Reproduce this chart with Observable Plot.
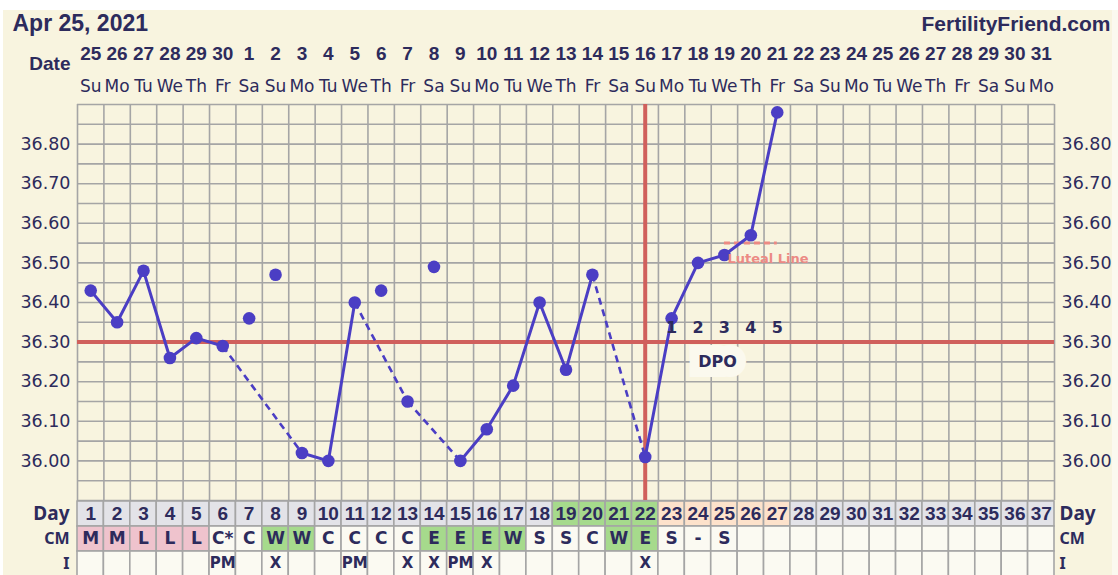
<!DOCTYPE html>
<html><head><meta charset="utf-8">
<script src="https://cdn.jsdelivr.net/npm/d3@7"></script>
<script src="https://cdn.jsdelivr.net/npm/@observablehq/plot@0.6"></script>
<style>
html,body{margin:0;padding:0;background:#fff;overflow:hidden;width:1118px;height:575px}
#wrap{position:relative;width:1118px;height:575px}
#bg{position:absolute;left:3px;top:10px;width:1109px;height:565px;background:#f8f4df}
#bg2{position:absolute;left:1112px;top:10px;width:6px;height:565px;background:#fbf9ef}
#charts{position:absolute;left:0;top:0}
#charts svg{display:block}
</style></head><body>
<div id="wrap"><div id="bg"></div><div id="bg2"></div><div id="charts"></div></div>
<script>
// ---------- data ----------
const chartDate = "Apr 25, 2021";
const siteName = "FertilityFriend.com";
const cycleDays = [1,2,3,4,5,6,7,8,9,10,11,12,13,14,15,16,17,18,19,20,21,22,23,24,25,26,27,28,29,30,31,32,33,34,35,36,37];
const dateLabels = ["25","26","27","28","29","30","1","2","3","4","5","6","7","8","9","10","11","12","13","14","15","16","17","18","19","20","21","22","23","24","25","26","27","28","29","30","31"];
const weekdayLabels = ["Su","Mo","Tu","We","Th","Fr","Sa","Su","Mo","Tu","We","Th","Fr","Sa","Su","Mo","Tu","We","Th","Fr","Sa","Su","Mo","Tu","We","Th","Fr","Sa","Su","Mo","Tu","We","Th","Fr","Sa","Su","Mo"];
const temps = [36.43,36.35,36.48,36.26,36.31,36.29,36.36,36.47,36.02,36.00,36.40,36.43,36.15,36.49,36.00,36.08,36.19,36.40,36.23,36.47,null,36.01,36.36,36.50,36.52,36.57,36.88];
const discardedDays = [7,8,12,14];
const coverline = 36.30;
const ovulationDay = 22;
const lutealLine = [{value:36.55, from:25, to:27, label:"Luteal Line"}];
const dpoDays = [23,24,25,26,27];
const dpoLabels = ["1","2","3","4","5"];
const dpoTitle = [{day:25, text:"DPO"}];
const fertileDays = [19,20,21,22];
const cmLabels = ["M","M","L","L","L","C*","C","W","W","C","C","C","C","E","E","E","W","S","S","C","W","E","S","-","S"];
const intercourse = ["","","","","","PM","","X","","","PM","","X","X","PM","X","","","","","","X"];
const yTicks = [36.0,36.1,36.2,36.3,36.4,36.5,36.6,36.7,36.8];
const tableRows = ["Day","CM","I"];

// ---------- styles ----------
const navy = "#2d2b5c", blue = "#4b3ec4", red = "#d0605c", pinkLine = "#ec8a84";
const gridC = "#a5a5a5";
const gray = "#e3e3e8", green = "#a6da8c", peach = "#fde2cb", pinkCell = "#efc3cd", whiteCell = "#fbfaf2";
const regular = "DejaVu Sans, Verdana, sans-serif";
const narrowBold = "Liberation Sans, Arial, sans-serif";

const dayInfo = cycleDays.map((d,i)=>({day:d, date:dateLabels[i], wd:weekdayLabels[i]}));
const tempData = temps.map((t,i)=>({day:i+1, temp:t, discarded:discardedDays.includes(i+1)})).filter(d=>d.temp!=null);
const used = tempData.filter(d=>!d.discarded);
const segs = d3.pairs(used).map(([a,b])=>({x1:a.day,y1:a.temp,x2:b.day,y2:b.temp,dashed:b.day-a.day>1}));
const gridX = d3.range(0,38).map(i=>i+0.5);
const gridY = d3.range(0,21).map(i=>35.9+i*0.05);
const dpoData = dpoDays.map((d,i)=>({day:d, text:dpoLabels[i]}));

const W = 1118, mL = 77, mR = 64;

const main = Plot.plot({
  width: W, height: 500, marginLeft: mL, marginRight: mR, marginTop: 104, marginBottom: 0,
  x: {domain:[0.5,37.5], axis:null},
  y: {domain:[35.9,36.9], axis:null},
  style: {background:"transparent", fontFamily: regular, overflow:"visible", color: navy},
  marks: [
    Plot.ruleX(gridX, {stroke:gridC, strokeWidth:1.6}),
    Plot.ruleY(gridY, {stroke:gridC, strokeWidth:1.6}),
    Plot.axisY(yTicks, {anchor:"left", tickFormat:".2f", tickSize:0, tickPadding:7, fontSize:17.5, fill:navy, label:null}),
    Plot.axisY(yTicks, {anchor:"right", tickFormat:".2f", tickSize:0, tickPadding:7, fontSize:17.5, fill:navy, label:null}),
    Plot.ruleY([coverline], {stroke:red, strokeWidth:4}),
    Plot.ruleX([ovulationDay], {stroke:red, strokeWidth:4}),
    Plot.ruleY(lutealLine, {y:"value", x1:"from", x2:"to", stroke:pinkLine, strokeWidth:3, strokeDasharray:"6,4"}),
    Plot.text(dpoTitle, {x:"day", y:()=>coverline, text:"text", dx:-7, dy:20, lineAnchor:"middle", fill:navy, fontWeight:"bold", fontSize:16, fontFamily:regular, stroke:"#fbf9ee", strokeWidth:20, strokeLinejoin:"miter"}),
    Plot.link(segs.filter(d=>d.dashed), {x1:"x1", y1:"y1", x2:"x2", y2:"y2", stroke:blue, strokeWidth:2.6, strokeDasharray:"7,5"}),
    Plot.link(segs.filter(d=>!d.dashed), {x1:"x1", y1:"y1", x2:"x2", y2:"y2", stroke:blue, strokeWidth:3, strokeLinecap:"round"}),
    Plot.dot(tempData, {x:"day", y:"temp", r:6.3, fill:blue}),
    Plot.text(lutealLine, {x:"from", y:"value", text:"label", textAnchor:"start", lineAnchor:"middle", dx:3, dy:16, fill:pinkLine, fontWeight:"bold", fontSize:13, fontFamily:regular, letterSpacing:"-0.6px"}),
    Plot.text(dpoData, {x:"day", y:()=>coverline, text:"text", lineAnchor:"middle", dy:-14, fill:navy, fontWeight:"bold", fontSize:16, fontFamily:regular}),
    // header
    Plot.text(dayInfo, {x:"day", text:"date", frameAnchor:"top", lineAnchor:"bottom", dy:-45, fill:navy, fontWeight:"bold", fontSize:19, fontFamily:narrowBold}),
    Plot.text(dayInfo, {x:"day", text:"wd", frameAnchor:"top", lineAnchor:"bottom", dy:-13, fill:navy, fontSize:17, fontFamily:regular, letterSpacing:"-0.5px"}),
    Plot.text(["Date"], {frameAnchor:"top-left", textAnchor:"end", lineAnchor:"bottom", dx:-7, dy:-35, fill:navy, fontWeight:"bold", fontSize:19, fontFamily:narrowBold}),
    Plot.text([chartDate], {frameAnchor:"top-left", textAnchor:"start", lineAnchor:"bottom", dx:12-mL, dy:-74, fill:navy, fontWeight:"bold", fontSize:23, fontFamily:narrowBold}),
    Plot.text([siteName], {frameAnchor:"top-right", textAnchor:"end", lineAnchor:"bottom", dx:1110-(W-mR), dy:-74, fill:navy, fontWeight:"bold", fontSize:21, fontFamily:narrowBold})
  ]
});

// ---------- table ----------
const cells = [];
cycleDays.forEach((d,i)=>{
  cells.push({day:d, row:"Day", text:String(d), fill: fertileDays.includes(d)?green : dpoDays.includes(d)?peach : gray});
  const cm = cmLabels[i] ?? "";
  cells.push({day:d, row:"CM", text:cm, fill: /^[ML]/.test(cm)?pinkCell : /^[WE]/.test(cm)?green : whiteCell});
  cells.push({day:d, row:"I", text:intercourse[i] ?? "", fill:whiteCell});
});

const table = Plot.plot({
  width: W, height: 77, marginLeft: mL, marginRight: mR, marginTop: 0, marginBottom: 0,
  x: {domain:[0.5,37.5], axis:null},
  y: {domain:tableRows, axis:null, padding:0},
  color: {type:"identity"},
  style: {background:"transparent", overflow:"visible", color:navy},
  marks: [
    Plot.barX(cells, {x1:d=>d.day-0.5, x2:d=>d.day+0.5, y:"row", fill:"fill", stroke:gridC, strokeWidth:1.6, inset:0}),
    Plot.text(cells.filter(d=>d.row==="Day"), {x:"day", y:"row", text:"text", fill:navy, fontWeight:"bold", fontSize:19, fontFamily:narrowBold, lineAnchor:"middle", dy:0}),
    Plot.text(cells.filter(d=>d.row==="CM"), {x:"day", y:"row", text:"text", fill:navy, fontWeight:"bold", fontSize:17, fontFamily:regular, lineAnchor:"middle"}),
    Plot.text(cells.filter(d=>d.row==="I"), {x:"day", y:"row", text:"text", fill:navy, fontWeight:"bold", fontSize:15, fontFamily:regular, lineAnchor:"middle", dy:-1}),
    Plot.text(tableRows, {y:d=>d, text:d=>d, frameAnchor:"left", textAnchor:"end", dx:-8, fill:navy, fontWeight:"bold", fontSize:d=>d==="Day"?19:16, fontFamily:d=>d==="Day"?narrowBold:regular}),
    Plot.text(tableRows, {y:d=>d, text:d=>d, frameAnchor:"right", textAnchor:"start", dx:5, fill:navy, fontWeight:"bold", fontSize:d=>d==="Day"?19:16, fontFamily:d=>d==="Day"?narrowBold:regular})
  ]
});

document.getElementById("charts").append(main, table);
</script>
</body></html>
